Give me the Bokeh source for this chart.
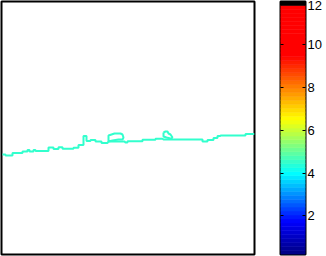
from bokeh.plotting import figure
from bokeh.models import Range1d, LinearAxis, FixedTicker, ColumnDataSource
from bokeh.layouts import row
from bokeh.embed import file_html
from bokeh.resources import INLINE

# Contour line (grid coords, image-style: y grows downward)
line_x = [2, 5, 5, 12, 12, 22, 22, 27, 27, 29, 29, 33, 33, 35, 35, 48, 48, 53, 53, 58, 58, 62, 62,
          73, 73, 78, 78, 83, 83, 86, 86, 90, 90, 95, 95, 101, 101, 107, 108, 124, 125, 127, 127,
          142, 142, 155, 155, 162, 163, 202, 202, 207, 207, 213, 213, 217, 217, 220, 220, 245, 245, 254]
line_y = [154, 154, 155, 155, 152.5, 152.5, 151, 151, 149.5, 149.5, 151, 151, 149.5, 149.5, 150.5,
          150.5, 147, 147, 148.5, 148.5, 146.7, 146.7, 148.3, 148.3, 147.3, 147.3, 144.5, 144.5, 135.5,
          135.5, 140.5, 140.5, 139.5, 139.5, 141, 141, 142.5, 142.5, 141, 141, 142, 142, 140.7, 140.7,
          139.3, 139.3, 138.3, 138.3, 139, 139, 141, 141, 139.5, 139.5, 137.5, 137.5, 135.5, 135.5,
          135, 135, 133.5, 133.5]

# Closed loops of the contour
loop1_x = [108, 108, 111, 114, 120, 122, 123, 122, 118, 112, 108]
loop1_y = [141, 135, 134, 133, 133, 134, 137, 139, 139, 140, 141]
loop2_x = [163, 165, 167, 168, 170, 172, 170, 166, 163, 163]
loop2_y = [132, 131, 131, 133, 134, 137, 138, 137, 136, 132]

contour_level = 4.5

# Colorbar
cbar_min = 0.2
cbar_max = 12.0
n_levels = 64
cbar_ticks = [2, 4, 6, 8, 10, 12]

# colour stops (value, (r, g, b))
stops_v = [0.2, 1.73, 4.0, 6.53, 9.46, 11.8]
stops_c = [(0, 0, 0.5), (0, 0, 1), (0, 1, 1), (1, 1, 0), (1, 0, 0), (1, 0, 0)]


def cmap(v):
    if v <= stops_v[0]:
        c = stops_c[0]
    elif v >= stops_v[-1]:
        c = stops_c[-1]
    else:
        for i in range(len(stops_v) - 1):
            if stops_v[i] <= v <= stops_v[i + 1]:
                t = (v - stops_v[i]) / (stops_v[i + 1] - stops_v[i])
                a, b = stops_c[i], stops_c[i + 1]
                c = tuple(a[k] + (b[k] - a[k]) * t for k in range(3))
                break
    return "#%02x%02x%02x" % tuple(int(round(255 * x)) for x in c)


step = (cbar_max - cbar_min) / n_levels
bottoms = [cbar_min + i * step for i in range(n_levels)]
tops = [b + step for b in bottoms]
colors = [cmap(b + step / 2) for b in bottoms]
colors[-1] = "#000000"

line_color = cmap(contour_level)

p = figure(frame_width=253, frame_height=253, min_border_left=1, min_border_top=1,
           min_border_right=2, min_border_bottom=2,
           x_range=Range1d(1, 254), y_range=Range1d(254, 1),
           output_backend="svg", toolbar_location=None,
           x_axis_location=None, y_axis_location=None)
p.grid.visible = False
p.outline_line_color = "black"
p.outline_line_width = 2
p.outline_line_alpha = 1
p.line(line_x, line_y, line_color=line_color, line_width=2)
p.line(loop1_x, loop1_y, line_color=line_color, line_width=2)
p.line(loop2_x, loop2_y, line_color=line_color, line_width=2)

c = figure(frame_width=25, frame_height=253, min_border_left=24, min_border_top=1,
           min_border_right=21, min_border_bottom=2,
           x_range=Range1d(0, 1), y_range=Range1d(cbar_min, cbar_max),
           output_backend="svg", toolbar_location=None,
           x_axis_location=None, y_axis_location=None)
c.grid.visible = False
c.outline_line_color = "black"
c.outline_line_width = 2
c.outline_line_alpha = 1
src = ColumnDataSource(dict(bottom=bottoms, top=tops, color=colors))
c.quad(left=0, right=1, bottom="bottom", top="top", fill_color="color", line_color="color",
       line_width=0.6, source=src)

for loc in ("left", "right"):
    ax = LinearAxis(ticker=FixedTicker(ticks=cbar_ticks))
    ax.major_tick_in = 3
    ax.major_tick_out = 0
    ax.minor_tick_line_color = None
    ax.axis_line_color = None
    ax.major_tick_line_color = "black"
    ax.major_tick_line_width = 1
    if loc == "left":
        ax.major_label_text_font_size = "0px"
        ax.major_label_text_alpha = 0
        ax.major_label_standoff = 0
    else:
        ax.major_label_text_font = "Liberation Sans"
        ax.major_label_text_font_size = "13px"
        ax.major_label_text_color = "black"
        ax.major_label_standoff = 2
    c.add_layout(ax, loc)

layout = row(p, c)
open("out.html", "w").write(file_html(layout, INLINE))
